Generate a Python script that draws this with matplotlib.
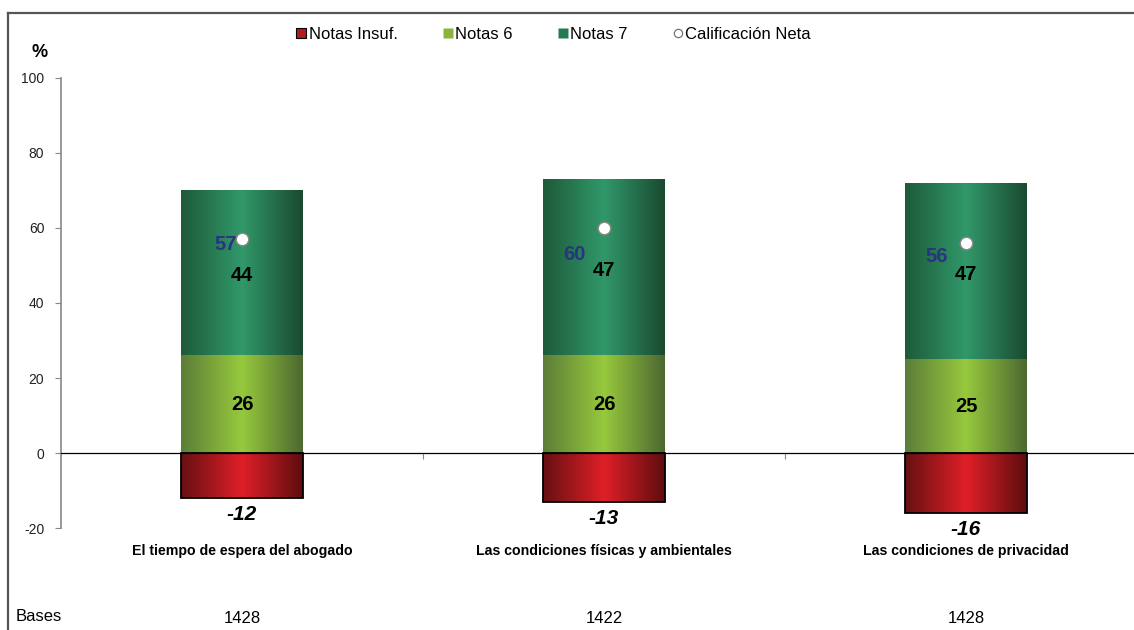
import matplotlib.pyplot as plt
import numpy as np
from matplotlib.lines import Line2D
from matplotlib.colors import LinearSegmentedColormap

plt.rcParams['font.family'] = ['Liberation Sans', 'DejaVu Sans']
plt.rcParams['axes.unicode_minus'] = False

categorias = ['El tiempo de espera del abogado',
              'Las condiciones físicas y ambientales',
              'Las condiciones de privacidad']
notas_insuf = [-12, -13, -16]
notas_6 = [26, 26, 25]
notas_7 = [44, 47, 47]
calif_neta = [57, 60, 56]
bases = [1428, 1422, 1428]

# offsets (points) for the net score labels
neta_offsets = [(-4, -4), (-13, -19), (-13, -10)]

fig = plt.figure(figsize=(11.34, 6.3), dpi=100)
ax = fig.add_axes([0.0538, 0.1619, 0.9577, 0.7143])

x = np.arange(len(categorias))
w = 0.335

def grad_cmap(edge_l, mid, edge_r):
    return LinearSegmentedColormap.from_list('g', [edge_l, mid, edge_r])

cm_red = grad_cmap('#661012', '#e01f28', '#5e0d0f')
cm_g6 = grad_cmap('#5c7d38', '#97c93d', '#4c6830')
cm_g7 = grad_cmap('#1e5a3a', '#31986a', '#1a4a30')

grad = np.linspace(0, 1, 256).reshape(1, -1)

def fill_gradient(bars, cmap):
    for b in bars:
        x0, y0 = b.get_x(), b.get_y()
        x1, y1 = x0 + b.get_width(), y0 + b.get_height()
        im = ax.imshow(grad, cmap=cmap, aspect='auto', extent=[x0, x1, min(y0, y1), max(y0, y1)],
                       zorder=2, interpolation='bicubic')
        im.set_clip_path(b)

b_red = ax.bar(x, notas_insuf, w, color='none', edgecolor='black', linewidth=1.3, zorder=3)
b_g6 = ax.bar(x, notas_6, w, color='none', edgecolor='none', zorder=3)
b_g7 = ax.bar(x, notas_7, w, bottom=notas_6, color='none', edgecolor='none', zorder=3)
fill_gradient(b_red, cm_red)
fill_gradient(b_g6, cm_g6)
fill_gradient(b_g7, cm_g7)

ax.plot(x, calif_neta, 'o', ms=9, mfc='white', mec='#888888', mew=1, ls='none', zorder=5)

for i in x:
    ax.text(i, notas_6[i] / 2, str(notas_6[i]), ha='center', va='center',
            fontsize=14.5, fontweight='bold', zorder=6)
    ax.text(i, notas_6[i] + notas_7[i] / 2 - 0.8, str(notas_7[i]), ha='center', va='center',
            fontsize=14.5, fontweight='bold', zorder=6)
    ax.annotate(str(notas_insuf[i]), (i, notas_insuf[i]), xytext=(0, -5),
                textcoords='offset points', ha='center', va='top',
                fontsize=15, fontweight='bold', fontstyle='italic', zorder=6)
    ax.annotate(str(calif_neta[i]), (i, calif_neta[i]), xytext=neta_offsets[i],
                textcoords='offset points', ha='right', va='center',
                fontsize=14.5, fontweight='bold', color='#283580', zorder=6)
    ax.text(i, -26, categorias[i], ha='center', va='center',
            fontsize=10.2, fontweight='bold')
    ax.text(i, -44, str(bases[i]), ha='center', va='center', fontsize=12)

ax.text(-0.625, -43.5, 'Bases', ha='left', va='center', fontsize=12)

ax.set_xlim(-0.5, 2.5)
ax.set_ylim(-20, 100)
ax.set_yticks(range(-20, 101, 20))
ax.tick_params(axis='y', labelsize=10, length=4, color='#888888', pad=8, labelcolor='#222222')
ax.spines['left'].set_color('#888888')
ax.spines['left'].set_linewidth(1.2)
ax.spines['top'].set_visible(False)
ax.spines['right'].set_visible(False)
ax.spines['bottom'].set_position(('data', 0))
ax.spines['bottom'].set_linewidth(0.9)
ax.set_xticks([0.5, 1.5])
ax.set_xticklabels([])
ax.tick_params(axis='x', length=4, width=0.8, color='#888888')
ax.patch.set_alpha(0)

fig.text(0.035, 0.917, '%', fontsize=13, fontweight='bold', ha='center', va='center')

# outer frame
fig.add_artist(Line2D([0.007, 1.0], [0.979, 0.979], color='#555555', lw=1.6))
fig.add_artist(Line2D([0.007, 0.007], [0.0, 0.979], color='#555555', lw=1.6))

handles = [
    Line2D([], [], marker='s', ls='none', ms=7, mfc='#b01c20', mec='black', mew=0.8),
    Line2D([], [], marker='s', ls='none', ms=7, mfc='#8ab43c', mec='none'),
    Line2D([], [], marker='s', ls='none', ms=7, mfc='#257a50', mec='none'),
    Line2D([], [], marker='o', ls='none', ms=6, mfc='white', mec='#666666', mew=0.8),
]
fig.legend(handles, ['Notas Insuf.', 'Notas 6', 'Notas 7', 'Calificación Neta'],
           loc='center', bbox_to_anchor=(0.4875, 0.945), ncol=4, frameon=False,
           fontsize=12, handletextpad=0.05, columnspacing=2.6, handlelength=0.8)

fig.savefig('out.png', dpi=100)
